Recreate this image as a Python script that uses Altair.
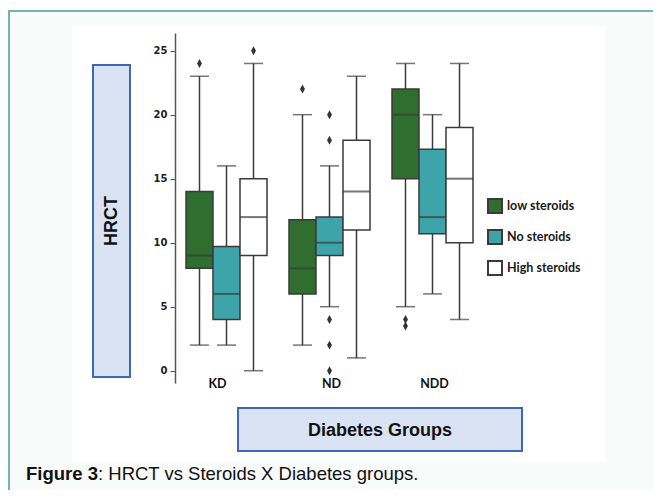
import altair as alt
import pandas as pd

# ---- data ----
groups = ["KD", "ND", "NDD"]
steroids = ["low steroids", "No steroids", "High steroids"]
colors = ["#2F6E2E", "#3DA5A9", "#FFFFFF"]

box_group = ["KD", "KD", "KD", "ND", "ND", "ND", "NDD", "NDD", "NDD"]
box_steroid = steroids * 3
whisker_low = [2, 2, 0, 2, 5, 1, 5, 6, 4]
q1 = [8, 4, 9, 6, 9, 11, 15, 10.7, 10]
median = [9, 6, 12, 8, 10, 14, 20, 12, 15]
q3 = [14, 9.7, 15, 11.8, 12, 18, 22, 17.3, 19]
whisker_high = [23, 16, 24, 20, 16, 23, 24, 20, 24]

out_group = ["KD", "KD", "ND", "ND", "ND", "ND", "ND", "ND", "NDD", "NDD"]
out_steroid = ["low steroids", "High steroids", "low steroids", "No steroids", "No steroids",
               "No steroids", "No steroids", "No steroids", "low steroids", "low steroids"]
out_value = [24, 25, 22, 20, 18, 4, 2, 0, 4, 3.5]

boxes = pd.DataFrame({"group": box_group, "steroid": box_steroid, "lo": whisker_low,
                      "q1": q1, "med": median, "q3": q3, "hi": whisker_high})
outliers = pd.DataFrame({"group": out_group, "steroid": out_steroid, "value": out_value})

EDGE = "#3a3a3a"
xenc = alt.X("group:N", scale=alt.Scale(domain=groups, paddingInner=0, paddingOuter=0),
             axis=alt.Axis(title=None, domain=False, ticks=False, labelAngle=0, labelPadding=-6,
                           labelOffset={"condition": {"test": "datum.value === 'KD'", "value": -9},
                                        "value": 2},
                           labelFont="Lato", labelFontSize=12.5, labelFontWeight="bold",
                           labelColor="#111", zindex=2))
xoff = alt.XOffset("steroid:N", scale=alt.Scale(domain=steroids, paddingInner=0, paddingOuter=0.407))
yscale = alt.Scale(domain=[-0.96, 26.38], nice=False, zero=False)
yaxis = alt.Axis(title=None, values=[0, 5, 10, 15, 20, 25], grid=False, domainColor="#555",
                 domainWidth=1.5, tickColor="#555", tickSize=5, labelFont="DejaVu Sans",
                 labelFontWeight="bold", labelFontSize=10, labelColor="#222", labelPadding=3,
                 zindex=2)

one = alt.Data(values=[{}])

panel = alt.Chart(one).mark_rect(fill="#F9FAFA", stroke="#72B5B5", strokeWidth=2).encode(
    x=alt.value(-166), x2=alt.value(520), y=alt.value(-22), y2=alt.value(520))
image = alt.Chart(one).mark_rect(fill="#FFFFFF").encode(
    x=alt.value(-103), x2=alt.value(430), y=alt.value(-7), y2=alt.value(429))
hbox = alt.Chart(one).mark_rect(fill="#DAE3F3", stroke="#3F67B5", strokeWidth=2).encode(
    x=alt.value(-82), x2=alt.value(-45), y=alt.value(32), y2=alt.value(344))
htext = alt.Chart(one).mark_text(angle=270, font="Liberation Sans", fontSize=18, fontWeight="bold",
                                 color="#111", align="center", baseline="middle").encode(
    x=alt.value(-63.5), y=alt.value(188), text=alt.value("HRCT"))
dbox = alt.Chart(one).mark_rect(fill="#DAE3F3", stroke="#3F67B5", strokeWidth=2).encode(
    x=alt.value(63), x2=alt.value(347), y=alt.value(375), y2=alt.value(418))
dtext = alt.Chart(one).mark_text(font="Liberation Sans", fontSize=18, fontWeight="bold",
                                 color="#111", align="center", baseline="middle").encode(
    x=alt.value(205), y=alt.value(397.5), text=alt.value("Diabetes Groups"))
cap1 = alt.Chart(one).mark_text(font="Liberation Sans", fontSize=18.5, fontWeight="bold",
                                color="#111", align="left", baseline="middle").encode(
    x=alt.value(-149), y=alt.value(441), text=alt.value("Figure 3"))
cap2 = alt.Chart(one).mark_text(font="Liberation Sans", fontSize=18.5, color="#111",
                                align="left", baseline="middle").encode(
    x=alt.value(-77), y=alt.value(441), text=alt.value(": HRCT vs Steroids X Diabetes groups."))

base = alt.Chart(boxes)
whisk = base.mark_rule(color=EDGE, strokeWidth=1.5).encode(
    x=xenc, xOffset=xoff, y=alt.Y("lo:Q", scale=yscale, axis=yaxis), y2="hi:Q")
cap_hi = base.mark_tick(color=EDGE, size=19, thickness=1.5).encode(
    x=xenc, xOffset=xoff, y=alt.Y("hi:Q", scale=yscale))
cap_lo = base.mark_tick(color=EDGE, size=19, thickness=1.5).encode(
    x=xenc, xOffset=xoff, y=alt.Y("lo:Q", scale=yscale))
bars = base.mark_bar(stroke=EDGE, strokeWidth=1.5).encode(
    x=xenc, xOffset=xoff, y=alt.Y("q1:Q", scale=yscale), y2="q3:Q",
    color=alt.Color("steroid:N", scale=alt.Scale(domain=steroids, range=colors),
                    legend=alt.Legend(title=None, orient="none", legendX=312, legendY=165,
                                      symbolType="square", symbolSize=196, symbolStrokeWidth=2,
                                      labelFont="Lato", labelFontSize=12.5, labelFontWeight="bold",
                                      labelColor="#1a1a1a", rowPadding=9, padding=0, labelOffset=4)))
meds = base.mark_tick(color=EDGE, size=27, thickness=2).encode(
    x=xenc, xOffset=xoff, y=alt.Y("med:Q", scale=yscale))
pts = alt.Chart(outliers).mark_point(shape="M0,-1L0.55,0L0,1L-0.55,0Z", filled=True, size=80,
                                     color="#333333", opacity=1).encode(
    x=xenc, xOffset=xoff, y=alt.Y("value:Q", scale=yscale))

chart = alt.layer(panel, image, hbox, htext, dbox, dtext, cap1, cap2,
                  whisk, cap_hi, cap_lo, bars, meds, pts).properties(
    width=309, height=350, autosize="none",
    padding={"left": 167, "top": 25, "right": 169, "bottom": 107},
    background="#FFFFFF"
).configure_view(strokeWidth=0)

chart.save("out.html", embed_options={"renderer": "svg", "actions": False})
